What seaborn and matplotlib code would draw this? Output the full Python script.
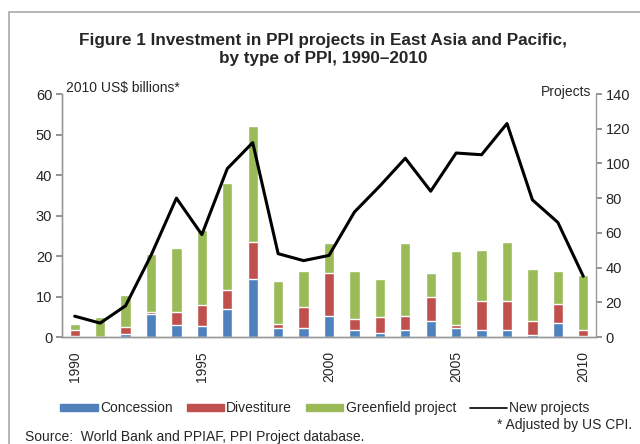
import numpy as np
import pandas as pd
import seaborn as sns
import matplotlib.pyplot as plt
from matplotlib.patches import Rectangle
from matplotlib.lines import Line2D

years = list(range(1990, 2011))
concession = [0.3, 0.0, 0.7, 5.8, 2.9, 2.7, 6.8, 14.2, 2.3, 2.3, 5.3,
              1.8, 1.0, 1.7, 4.0, 2.1, 1.8, 1.7, 0.4, 3.4, 0.2]
divestiture = [1.4, 0.0, 1.8, 0.4, 3.3, 5.3, 4.9, 9.3, 0.9, 5.1, 10.5,
               2.7, 3.9, 3.5, 6.0, 0.9, 7.0, 7.3, 3.6, 4.7, 1.5]
greenfield = [1.6, 4.9, 7.8, 14.4, 15.7, 18.4, 26.3, 28.6, 10.6, 9.0, 7.4,
              11.9, 9.3, 18.0, 5.9, 18.3, 12.8, 14.5, 12.8, 8.3, 13.5]
new_projects = [12, 8, 18, 47, 80, 59, 97, 112, 48, 44, 47,
                72, 87, 103, 84, 106, 105, 123, 79, 66, 35]

df = pd.DataFrame({"Year": years, "Concession": concession,
                   "Divestiture": divestiture, "Greenfield": greenfield,
                   "Projects": new_projects})
df["pos"] = np.arange(len(df))
df["c1"] = df["Concession"]
df["c2"] = df["c1"] + df["Divestiture"]
df["c3"] = df["c2"] + df["Greenfield"]

blue, red, green = "#4F81BD", "#C0504D", "#9BBB59"

sns.set_theme(style="white")
plt.rcParams["font.family"] = ["Liberation Sans", "DejaVu Sans"]

fig = plt.figure(figsize=(6.4, 4.44), dpi=100)
ax = fig.add_axes([62 / 640, 1 - 337 / 444, 534 / 640, 243 / 444])

# stacked bars drawn as overlapping cumulative totals
for col, c in [("c3", green), ("c2", red), ("c1", blue)]:
    sns.barplot(data=df, x="pos", y=col, color=c, width=0.4,
                saturation=1, ax=ax, native_scale=True)

ax.set_xlim(-0.5, len(df) - 0.5)
ax.set_ylim(0, 60)
ax.set_yticks(range(0, 61, 10))
ax.set_xticks(range(0, len(df), 5))
ax.set_xticklabels([str(y) for y in years[::5]], rotation=90, fontsize=10)
ax.set_xlabel("")
ax.set_ylabel("")
ax.tick_params(axis="y", labelsize=10.5, length=4, color="#888888",
               direction="out", left=True, pad=3)
ax.tick_params(axis="x", length=0, pad=10)

ax2 = ax.twinx()
sns.lineplot(data=df, x="pos", y="Projects", color="black", linewidth=2.2,
             ax=ax2)
ax2.set_ylim(0, 140)
ax2.set_yticks(range(0, 141, 20))
ax2.set_ylabel("")
ax2.tick_params(axis="y", labelsize=10.5, length=4, color="#888888",
                direction="out", right=True, pad=3)
ax2.set_xlim(-0.5, len(df) - 0.5)

for a in (ax, ax2):
    a.spines["top"].set_visible(False)
    for s in ["left", "right", "bottom"]:
        a.spines[s].set_color("#999999")
        a.spines[s].set_linewidth(1)
ax.spines["right"].set_visible(False)

fig.text(0.505, 0.925, "Figure 1 Investment in PPI projects in East Asia and Pacific,\nby type of PPI, 1990\u20132010",
         ha="center", va="top", fontsize=12.3, fontweight="bold",
         linespacing=1.2)
fig.text(66 / 640, 1 - 88 / 444, "2010 US$ billions*", fontsize=10,
         va="center", ha="left")
fig.text(591 / 640, 1 - 92 / 444, "Projects", fontsize=10,
         va="center", ha="right")

handles = [Rectangle((0, 0), 1, 1, color=blue),
           Rectangle((0, 0), 1, 1, color=red),
           Rectangle((0, 0), 1, 1, color=green),
           Line2D([0], [0], color="black", linewidth=1.2)]
labels = ["Concession", "Divestiture", "Greenfield project", "New projects"]
fig.legend(handles, labels, loc="center", bbox_to_anchor=(0.508, 1 - 408 / 444),
           ncol=4, frameon=False, fontsize=10, handlelength=2.7,
           handleheight=0.4, handletextpad=0.15, columnspacing=1.0)

fig.text(632 / 640, 1 - 425 / 444, "* Adjusted by US CPI.", fontsize=10,
         ha="right", va="center")
fig.text(25 / 640, 1 - 437 / 444, "Source:  World Bank and PPIAF, PPI Project database.",
         fontsize=10, ha="left", va="center")

# chart frame (cropped on right and bottom)
fig.add_artist(Rectangle((9 / 640, -0.1), 1.2, 1 - 12 / 444 + 0.1,
                         transform=fig.transFigure, fill=False,
                         edgecolor="#aaaaaa", linewidth=1.2))

fig.savefig("out.png", dpi=100)
